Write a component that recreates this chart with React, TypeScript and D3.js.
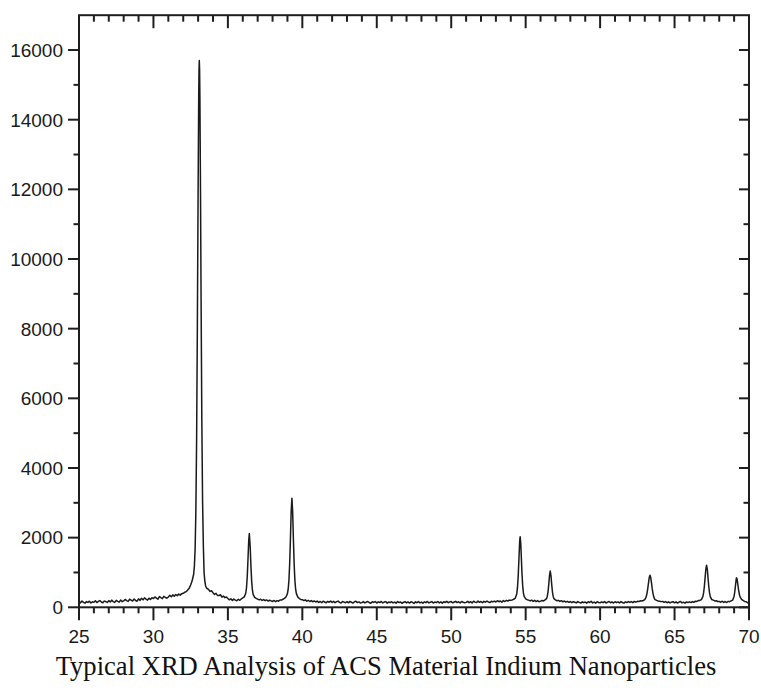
import React from "react";
import * as d3 from "d3";

// XRD scan: 2θ from 25.0 to 70.0 in 0.1° steps (counts)
const scanStart = 25;
const scanStep = 0.1;
const gridCounts: number[] = [
  // 25
  170, 128, 181, 143, 118, 166, 139, 176, 124, 158,
  // 26
  142, 187, 136, 171, 194, 151, 129, 178, 165, 140,
  // 27
  192, 152, 205, 163, 141, 199, 170, 148, 208, 161,
  // 28
  184, 226, 190, 169, 231, 205, 180, 238, 196, 175,
  // 29
  245, 199, 258, 214, 270, 236, 205, 262, 224, 276,
  // 30
  250, 298, 263, 232, 309, 276, 249, 316, 281, 262,
  // 31
  296, 345, 305, 356, 318, 367, 335, 378, 350, 392,
  // 32
  402, 431, 449, 497, 545, 640, 760, 950, 1680, 4845,
  // 33
  11980, 15420, 8840, 3050, 1000, 620, 540, 515, 455, 478,
  // 34
  418, 368, 401, 342, 337, 360, 292, 322, 276, 298,
  // 35
  255, 214, 246, 198, 236, 207, 189, 231, 202, 240,
  // 36
  268, 300, 403, 879, 1924, 1721, 730, 366, 288, 258,
  // 37
  236, 214, 231, 196, 222, 190, 211, 178, 203, 186,
  // 38
  168, 196, 162, 191, 176, 210, 208, 231, 254, 296,
  // 39
  393, 778, 1958, 3130, 1958, 778, 393, 292, 251, 227,
  // 40
  218, 192, 214, 176, 199, 166, 193, 160, 184, 152,
  // 41
  178, 141, 166, 134, 173, 152, 129, 169, 146, 177,
  // 42
  140, 170, 132, 161, 178, 142, 125, 166, 148, 131,
  // 43
  162, 128, 169, 145, 121, 158, 172, 136, 155, 124,
  // 44
  134, 163, 124, 151, 168, 131, 119, 160, 140, 166,
  // 45
  122, 157, 137, 169, 126, 150, 164, 118, 153, 133,
  // 46
  160, 125, 149, 118, 164, 136, 152, 114, 146, 161,
  // 47
  126, 154, 121, 160, 140, 112, 156, 131, 165, 124,
  // 48
  151, 118, 158, 134, 169, 126, 147, 163, 122, 152,
  // 49
  135, 167, 127, 155, 120, 161, 139, 171, 130, 154,
  // 50
  164, 128, 152, 172, 136, 159, 122, 168, 145, 132,
  // 51
  141, 170, 133, 162, 125, 175, 148, 137, 178, 143,
  // 52
  166, 131, 171, 146, 181, 150, 135, 174, 155, 179,
  // 53
  152, 188, 160, 182, 146, 193, 166, 199, 181, 206,
  // 54
  205, 212, 230, 262, 383, 906, 1914, 1529, 617, 311,
  // 55
  241, 218, 206, 182, 209, 172, 201, 165, 192, 160,
  // 56
  176, 194, 183, 212, 248, 439, 907, 907, 439, 248,
  // 57
  212, 188, 199, 168, 190, 158, 181, 149, 172, 143,
  // 58
  166, 134, 160, 143, 126, 163, 140, 121, 156, 133,
  // 59
  153, 120, 158, 137, 170, 126, 151, 116, 162, 138,
  // 60
  128, 157, 134, 165, 121, 149, 167, 130, 154, 122,
  // 61
  160, 133, 155, 124, 163, 138, 119, 158, 135, 166,
  // 62
  139, 163, 133, 168, 148, 171, 166, 186, 181, 196,
  // 63
  219, 308, 535, 853, 853, 535, 308, 219, 198, 181,
  // 64
  176, 163, 170, 142, 165, 131, 156, 126, 151, 160,
  // 65
  129, 156, 121, 150, 165, 127, 147, 116, 155, 135,
  // 66
  158, 136, 165, 144, 176, 168, 193, 196, 222, 308,
  // 67
  591, 1091, 1091, 591, 308, 222, 205, 184, 188, 168,
  // 68
  170, 145, 174, 141, 166, 137, 170, 162, 186, 205,
  // 69
  319, 659, 803, 500, 300, 225, 196, 168, 163, 132,
  // 70
  112,
];

// extra readings between grid steps around the reflections [2θ, counts]
const peakDetail: [number, number][] = [
  [32.75, 1180], [32.85, 2780], [32.95, 8075], [33.04, 14630], [33.06, 15420],
  [33.08, 15700], [33.12, 14630], [33.16, 11980], [33.25, 5350], [33.35, 1800],
  [33.45, 760], [33.55, 570],
  [36.25, 562], [36.35, 1379], [36.44, 2120], [36.55, 1160], [36.65, 484],
  [39.05, 519], [39.15, 1249], [39.25, 2743], [39.35, 2743], [39.45, 1249], [39.55, 519],
  [54.45, 563], [54.55, 1418], [54.63, 2025], [54.67, 1835], [54.75, 997], [54.85, 409],
  [56.45, 311], [56.55, 652], [56.65, 1040], [56.75, 652], [56.85, 311],
  [63.05, 255], [63.15, 401], [63.25, 700], [63.35, 920], [63.45, 700], [63.55, 401], [63.65, 245],
  [66.95, 414], [67.05, 836], [67.15, 1210], [67.25, 836], [67.35, 414],
  [69.05, 461], [69.15, 838], [69.17, 845], [69.25, 660], [69.35, 380],
];

const xDomain: [number, number] = [25, 70];
const yDomain: [number, number] = [0, 17000];
const xMajorTicks = [25, 30, 35, 40, 45, 50, 55, 60, 65, 70];
const xMinorTicks = d3.range(26, 70, 1).filter((v) => v % 5 !== 0);
const yMajorTicks = [0, 2000, 4000, 6000, 8000, 10000, 12000, 14000, 16000];
const yMinorTicks = d3.range(1000, 17000, 2000);
const caption = "Typical XRD Analysis of ACS Material Indium Nanoparticles";

export default function App() {
  const W = 761;
  const H = 690;
  const left = 79;
  const right = 749;
  const top = 15.2;
  const bottom = 607.3;

  const x = d3.scaleLinear().domain(xDomain).range([left, right]);
  const y = d3.scaleLinear().domain(yDomain).range([bottom, top]);

  const points: [number, number][] = gridCounts
    .map((c, i) => [+(scanStart + i * scanStep).toFixed(2), c] as [number, number])
    .concat(peakDetail)
    .sort((a, b) => a[0] - b[0]);

  const line = d3
    .line<[number, number]>()
    .x((d) => x(d[0]))
    .y((d) => y(d[1]));

  const axisColor = "#1e1e1e";
  const tickFont = "'Liberation Sans', Arial, sans-serif";

  return (
    <svg
      width={W}
      height={H}
      style={{ position: "absolute", left: 0, top: 0, background: "#fff" }}
    >
      <rect x={0} y={0} width={W} height={H} fill="#fff" />
      {/* data trace */}
      <path
        d={line(points) || ""}
        fill="none"
        stroke="#1a1a1a"
        strokeWidth={1.5}
        strokeLinejoin="round"
      />
      {/* frame */}
      <rect
        x={left}
        y={top}
        width={right - left}
        height={bottom - top}
        fill="none"
        stroke={axisColor}
        strokeWidth={2}
      />
      {/* bottom ticks (outward) and top ticks (inward) */}
      {xMajorTicks.map((v) => (
        <g key={"xM" + v}>
          <line x1={x(v)} x2={x(v)} y1={bottom} y2={bottom + 13} stroke={axisColor} strokeWidth={2} />
          <line x1={x(v)} x2={x(v)} y1={top} y2={top + 13} stroke={axisColor} strokeWidth={2} />
          <text
            x={x(v)}
            y={643}
            textAnchor="middle"
            fontFamily={tickFont}
            fontSize={19}
            fill="#1a1a1a"
          >
            {v}
          </text>
        </g>
      ))}
      {xMinorTicks.map((v) => (
        <g key={"xm" + v}>
          <line x1={x(v)} x2={x(v)} y1={bottom} y2={bottom + 6} stroke={axisColor} strokeWidth={2} />
          <line x1={x(v)} x2={x(v)} y1={top} y2={top + 6.5} stroke={axisColor} strokeWidth={2} />
        </g>
      ))}
      {/* left ticks (outward) and right ticks (inward) */}
      {yMajorTicks.map((v) => (
        <g key={"yM" + v}>
          <line x1={left - 11} x2={left} y1={y(v)} y2={y(v)} stroke={axisColor} strokeWidth={2} />
          <line x1={right - 10} x2={right} y1={y(v)} y2={y(v)} stroke={axisColor} strokeWidth={2} />
          <text
            x={63}
            y={y(v)}
            dy="0.36em"
            textAnchor="end"
            fontFamily={tickFont}
            fontSize={19}
            fill="#1a1a1a"
          >
            {v}
          </text>
        </g>
      ))}
      {yMinorTicks.map((v) => (
        <g key={"ym" + v}>
          <line x1={left - 5.5} x2={left} y1={y(v)} y2={y(v)} stroke={axisColor} strokeWidth={2} />
          <line x1={right - 5.5} x2={right} y1={y(v)} y2={y(v)} stroke={axisColor} strokeWidth={2} />
        </g>
      ))}
      {/* caption */}
      <text
        x={386}
        y={675}
        textAnchor="middle"
        fontFamily="'Liberation Serif', 'Times New Roman', serif"
        fontSize={26.6}
        fill="#111"
      >
        {caption}
      </text>
    </svg>
  );
}
